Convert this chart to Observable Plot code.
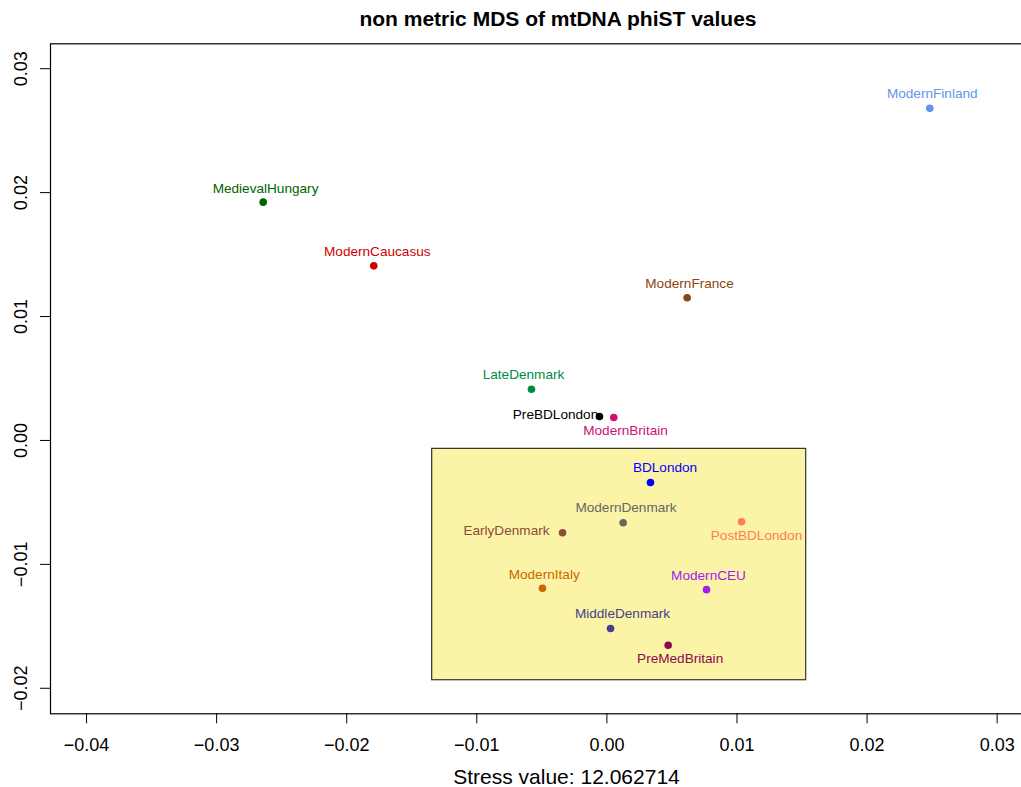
<!DOCTYPE html>
<html>
<head>
<meta charset="utf-8">
<script src="https://cdn.jsdelivr.net/npm/d3@7"></script>
<script src="https://cdn.jsdelivr.net/npm/@observablehq/plot@0.6"></script>
<style>
  html, body { margin: 0; padding: 0; background: #fff; overflow: hidden; }
  #title { width: 1116px; height: 23px; padding-top: 7px; line-height: 26px; text-align: center;
           font: bold 21px "Liberation Sans", Arial, sans-serif; color: #000; white-space: nowrap; overflow: visible; }
  #chart { width: 1080px; }
  #chart svg { display: block; max-width: none !important; width: 1080px !important; height: 757px !important; }
</style>
</head>
<body>
<div id="title">non metric MDS of mtDNA phiST values</div>
<div id="chart"></div>
<script>
// ---- data ----
const populations = ["ModernFinland","MedievalHungary","ModernCaucasus","ModernFrance","LateDenmark",
  "PreBDLondon","ModernBritain","BDLondon","ModernDenmark","PostBDLondon","EarlyDenmark",
  "ModernItaly","ModernCEU","MiddleDenmark","PreMedBritain"];
const dim1 = [0.02482,-0.02642,-0.01792,0.00617,-0.00580,-0.00057,0.00053,0.00335,0.00125,0.01035,-0.00341,-0.00495,0.00766,0.00028,0.00471];
const dim2 = [0.02680,0.01923,0.01409,0.01151,0.00413,0.00193,0.00185,-0.00339,-0.00664,-0.00656,-0.00745,-0.01193,-0.01204,-0.01518,-0.01653];
// label anchor coordinates (data units)
const labelX = [0.02501,-0.02624,-0.01765,0.00635,-0.00641,-0.00395,0.00143,0.00447,0.00147,0.01150,-0.00772,-0.00482,0.00781,0.00120,0.00563];
const labelY = [0.02799,0.02033,0.01522,0.01268,0.00529,0.00212,0.00077,-0.00221,-0.00543,-0.00766,-0.00728,-0.01083,-0.01091,-0.01397,-0.01762];
const popColors = ["#6495ED","#006400","#CD0000","#8B4513","#008B45","#000000","#CD1076","#0000FF","#666666",
  "#FF7F50","#8B4C39","#CD6600","#A020F0","#483D8B","#8B0A50"];
// highlighted cluster rectangle
const boxX = [-0.01343, 0.01532];
const boxY = [-0.00068, -0.01935];
// axes
const xTicks = [-0.04,-0.03,-0.02,-0.01,0.00,0.01,0.02,0.03];
const xTickLabels = ["\u22120.04","\u22120.03","\u22120.02","\u22120.01","0.00","0.01","0.02","0.03"];
const yTicks = [-0.02,-0.01,0.00,0.01,0.02,0.03];
const yTickLabels = ["\u22120.02","\u22120.01","0.00","0.01","0.02","0.03"];
const xDomain = [-0.04277, 0.03533];
const yDomain = [-0.02206, 0.03201];
const xLabel = "Stress value: 12.062714";

const pts = populations.map((p, i) => ({name: p, x: dim1[i], y: dim2[i], lx: labelX[i], ly: labelY[i], c: popColors[i]}));
const rect = [{x1: boxX[0], x2: boxX[1], y1: boxY[0], y2: boxY[1]}];
const font = '"Liberation Sans", Arial, sans-serif';

const chart = Plot.plot({
  width: 1080,
  height: 757,
  marginLeft: 50,
  marginRight: 14,
  marginTop: 13.3,
  marginBottom: 73.7,
  style: {fontFamily: font, background: "white", maxWidth: "none"},
  x: {domain: xDomain, label: null},
  y: {domain: yDomain, label: null},
  marks: [
    Plot.rect(rect, {x1: "x1", x2: "x2", y1: "y1", y2: "y2", fill: "#FBF4A6", stroke: "#333", strokeWidth: 1.2}),
    Plot.frame({stroke: "black", strokeWidth: 1.2}),
    Plot.axisX({ticks: xTicks, tickSize: 10, tickFormat: () => "", label: null, stroke: "black"}),
    Plot.axisY({ticks: yTicks, tickSize: 10, tickFormat: () => "", label: null, stroke: "black"}),
    Plot.text(xTicks.map((t, i) => ({t, s: xTickLabels[i]})), {
      x: "t", text: "s", frameAnchor: "bottom", dy: 31.5, lineAnchor: "middle",
      fontSize: 18, fill: "black"
    }),
    Plot.text(yTicks.map((t, i) => ({t, s: yTickLabels[i]})), {
      y: "t", text: "s", frameAnchor: "left", dx: -29, rotate: -90, textAnchor: "middle", lineAnchor: "middle",
      fontSize: 18, fill: "black"
    }),
    Plot.text([xLabel], {frameAnchor: "bottom", dx: 8, dy: 63, lineAnchor: "middle", fontSize: 21, fill: "black"}),
    Plot.dot(pts, {x: "x", y: "y", r: 3.8, fill: "c", stroke: null}),
    Plot.text(pts, {x: "lx", y: "ly", text: "name", fill: "c", fontSize: 13.6, lineAnchor: "middle", textAnchor: "middle"})
  ]
});
document.getElementById("chart").appendChild(chart);
</script>
</body>
</html>
